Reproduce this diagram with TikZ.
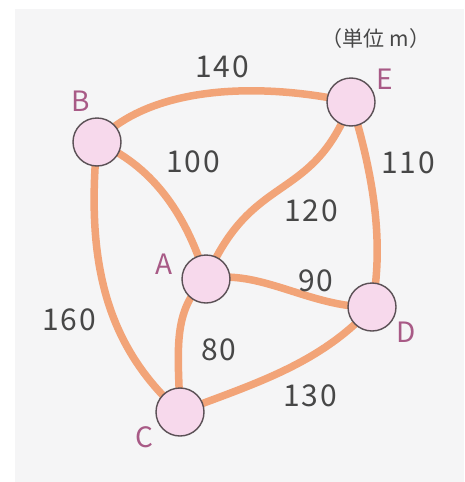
\documentclass[tikz,border=0pt]{standalone}
\usepackage{fontspec}
\setmainfont{Noto Sans CJK JP}
\definecolor{paper}{HTML}{F5F5F6}
\definecolor{road}{HTML}{F2A478}
\definecolor{nodefill}{HTML}{F7D9EC}
\definecolor{nodeline}{HTML}{5A5055}
\definecolor{lettercol}{HTML}{A85A86}
\definecolor{numcol}{HTML}{474747}
\tikzset{
  place/.style={circle, draw=nodeline, line width=1.4pt, fill=nodefill, minimum size=48pt, inner sep=0pt},
  roadline/.style={road, line width=7.5pt, line cap=round},
  letter/.style={text=lettercol, font=\fontsize{28}{30}\selectfont, inner sep=0pt},
  dist/.style={text=numcol, font=\fontsize{30}{32}\selectfont\addfontfeatures{LetterSpace=6}, inner sep=0pt},
  unit/.style={text=numcol, font=\fontsize{21}{23}\selectfont, inner sep=0pt}
}
\begin{document}
\begin{tikzpicture}[x=1pt,y=-1pt]
\useasboundingbox (0,0) rectangle (464,482);
\fill[white] (0,0) rectangle (464,482);
\fill[paper] (15,9) rectangle (464,482);
% node positions
\coordinate (pB) at (97,142);
\coordinate (pE) at (351,102);
\coordinate (pA) at (206,279);
\coordinate (pC) at (180,412);
\coordinate (pD) at (372,307);
% edges
\draw[roadline] (pB) .. controls (150,85) and (260,82) .. (pE);
\draw[roadline] (pB) .. controls (150,165) and (185,210) .. (pA);
\draw[roadline] (pB) .. controls (86,260) and (105,345) .. (pC);
\draw[roadline] (pE) .. controls (312,205) and (252,170) .. (pA);
\draw[roadline] (pE) .. controls (372,170) and (385,240) .. (pD);
\draw[roadline] (pA) .. controls (260,268) and (310,308) .. (pD);
\draw[roadline] (pA) .. controls (172,310) and (178,350) .. (pC);
\draw[roadline] (pC) .. controls (250,385) and (320,365) .. (pD);
% nodes
\node[place] (B) at (pB) {};
\node[place] (E) at (pE) {};
\node[place] (A) at (pA) {};
\node[place] (C) at (pC) {};
\node[place] (D) at (pD) {};
% letters
\node[letter] (lB) at (81,101) {B};
\node[letter] (lE) at (385,79) {E};
\node[letter] (lA) at (164,264) {A};
\node[letter] (lC) at (144,437) {C};
\node[letter] (lD) at (406,332) {D};
% distances
\node[dist] (d140) at (222,67) {140};
\node[dist] (d100) at (193,162) {100};
\node[dist] (d110) at (408,163) {110};
\node[dist] (d120) at (311,211) {120};
\node[dist] (d90) at (316,281) {90};
\node[dist] (d160) at (69,320) {160};
\node[dist] (d80) at (219,350) {80};
\node[dist] (d130) at (310,396) {130};
% unit
\node[unit] (unit) at (376,39) {（単位 m）};
\end{tikzpicture}
\end{document}
